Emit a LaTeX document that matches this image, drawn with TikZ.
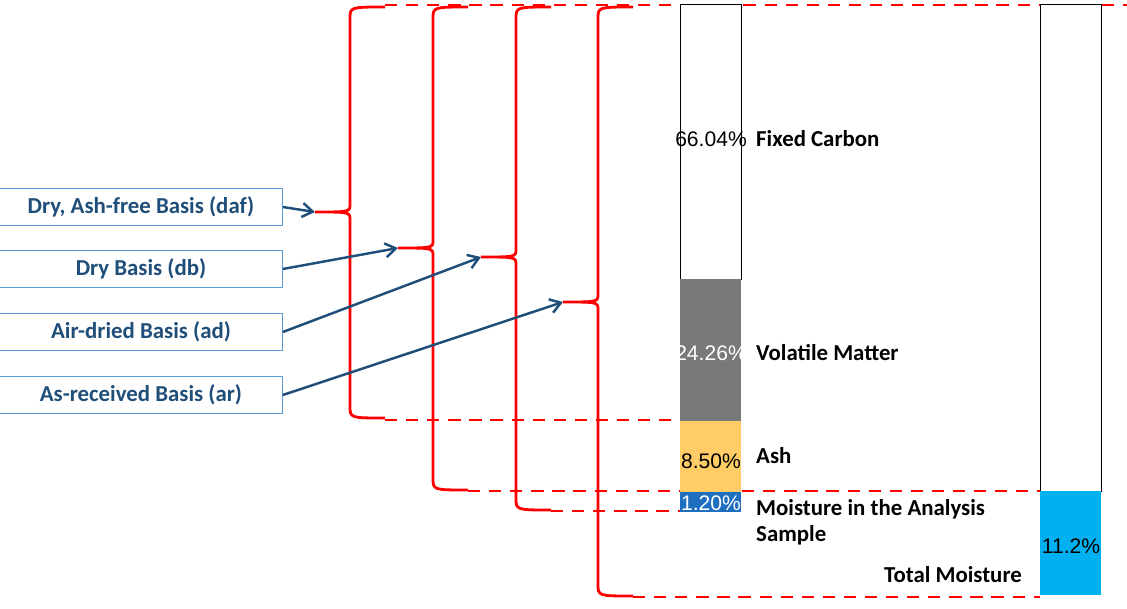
\documentclass[tikz,border=0pt]{standalone}
\usepackage{fontspec}
\setmainfont{Carlito}
\newfontfamily\arialfont{Liberation Sans}
\usetikzlibrary{arrows.meta, positioning}
\definecolor{labelblue}{HTML}{1F4E79}
\definecolor{boxblue}{HTML}{5B9BD5}
\definecolor{ashyellow}{HTML}{FFCC66}
\definecolor{moistblue}{HTML}{1F6FC0}
\definecolor{totalblue}{HTML}{00B0F0}
\tikzset{
	px/.style={x={(0.02cm,0)},y={(0,-0.02cm)}},
	basis/.style={draw=boxblue, thin, text=labelblue, font=\fontsize{13}{15}\selectfont\bfseries,
		minimum width=5.66cm, minimum height=0.74cm, inner sep=0pt},
	pct/.style={font=\arialfont\fontsize{12}{14}\selectfont, inner sep=1pt},
	part/.style={font=\fontsize{13}{15}\selectfont\bfseries, anchor=west, align=left},
	brace/.style={red, line width=1.6pt},
	guide/.style={red, line width=1.3pt, dash pattern=on 7pt off 5pt},
	pointer/.style={-{Straight Barb[length=6pt,width=8pt]}, labelblue, line width=1.4pt}
}
% brace: x of bar, top, tip y, bottom
\newcommand{\bracepath}[5]{%
	\draw[brace] ({#1+35},#2) .. controls (#1,#2) and (#1,#2) .. (#1,{#2+12})
		-- (#1,{#3-8}) .. controls (#1,#3) .. ({#1-35},#3)
		.. controls (#1,#3) .. (#1,{#3+8}) -- (#1,{#4-12})
		.. controls (#1,#4) and (#1,#4) .. ({#1+35},#4);
	\coordinate (#5) at ({#1-35},#3);
}
\begin{document}
\begin{tikzpicture}[px]
	\useasboundingbox (0,0) rectangle (1127,609);

	% dashed guides
	\draw[guide] (385,5) -- (1127,5);
	\draw[guide] (385,420) -- (680,420);
	\draw[guide] (468,491) -- (1040,491);
	\draw[guide] (551,511) -- (680,511);
	\draw[guide] (633,597) -- (1040,597);

	% braces
	\bracepath{350}{7}{212}{418}{daf}
	\bracepath{433}{7}{248}{490}{db}
	\bracepath{516}{7}{257}{510}{ad}
	\bracepath{598}{7}{302}{596}{ar}

	% left bar
	\draw[black, fill=white] (680,4) rectangle (741,279);
	\fill[gray!95!black] (680,279) rectangle (741,421);
	\fill[ashyellow] (680,421) rectangle (741,492);
	\fill[moistblue] (680,492) rectangle (741,512);
	% right bar
	\draw[black, fill=white] (1040,4) rectangle (1101,491);
	\fill[totalblue] (1040,491) rectangle (1101,595);

	\node[pct] (fc) at (711,139) {66.04\%};
	\node[pct, text=white] (vm) at (711,353) {24.26\%};
	\node[pct] (ash) at (711,461) {8.50\%};
	\node[pct, text=white] (mad) at (711,503) {1.20\%};
	\node[pct] (tm) at (1071,546) {11.2\%};

	\node[part] (fcl) at (750,139) {Fixed Carbon};
	\node[part] (vml) at (750,353) {Volatile Matter};
	\node[part] (ashl) at (750,456) {Ash};
	\node[part] (madl) at (750,522) {Moisture in the Analysis\\Sample};
	\node[part, anchor=east] (tml) at (1028,575) {Total Moisture};

	% basis boxes
	\node[basis] (bdaf) at (141,207) {Dry, Ash-free Basis (daf)};
	\node[basis] (bdb) at (141,269) {Dry Basis (db)};
	\node[basis] (bad) at (141,332) {Air-dried Basis (ad)};
	\node[basis] (bar) at (141,395) {As-received Basis (ar)};

	\draw[pointer] (bdaf.east) -- (daf);
	\draw[pointer] (bdb.east) -- (db);
	\draw[pointer] (bad.east) -- (ad);
	\draw[pointer] (bar.east) -- (ar);
\end{tikzpicture}
\end{document}
